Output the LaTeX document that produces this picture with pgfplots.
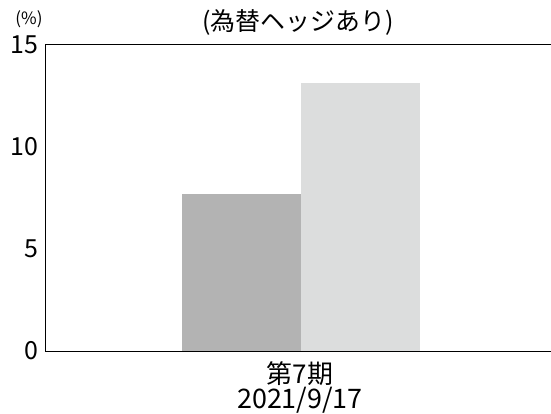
\documentclass[border=0pt]{standalone}
\usepackage{fontspec}
\setmainfont{Noto Sans CJK JP}
\usepackage{pgfplots}
\pgfplotsset{compat=1.18}
\definecolor{barA}{HTML}{B3B3B3}
\definecolor{barB}{HTML}{DCDDDD}
\begin{document}
\begin{tikzpicture}
\useasboundingbox (0,0) rectangle (551bp,414bp);
\begin{axis}[
  at={(45bp,63bp)}, anchor=south west,
  scale only axis, width=512bp, height=306bp,
  xmin=-1, xmax=1, ymin=0, ymax=15,
  ybar=0pt, bar width=119bp,
  axis line style={black, line width=1pt},
  ytick={0,5,10,15},
  xtick={0},
  xticklabels={},
  yticklabel style={font=\fontsize{25}{28}\selectfont, xshift=-3bp},
  /pgf/number format/assume math mode=true,
  tick style={draw=none},
  major tick length=0pt,
  clip=false,
]
\addplot[fill=barA, draw=none] coordinates {(0,7.7)};
\addplot[fill=barB, draw=none] coordinates {(0,13.12)};
\end{axis}
\node[font=\fontsize{25}{28}\selectfont] at (298bp,392bp) {(為替ヘッジあり)};
\node[font=\fontsize{17}{19}\selectfont] at (29bp,395bp) {(\%)};
\node[font=\fontsize{26}{30}\selectfont] at (300bp,40bp) {第7期};
\node[font=\fontsize{27}{30}\selectfont] at (300bp,14bp) {2021/9/17};
\end{tikzpicture}
\end{document}
